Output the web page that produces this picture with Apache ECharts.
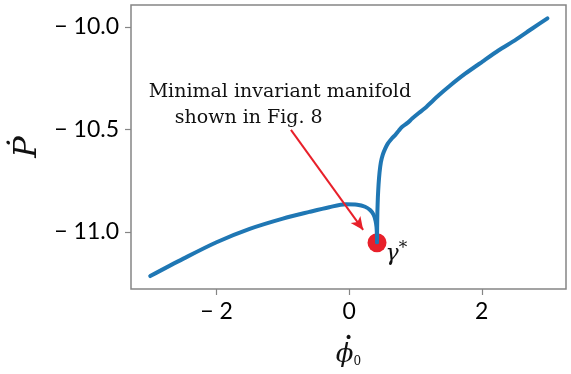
<!DOCTYPE html>
<html>
<head>
<meta charset="utf-8">
<style>
  html, body { margin: 0; padding: 0; background: #fff; }
  #chart { width: 571px; height: 374px; }
</style>
<script src="https://cdn.jsdelivr.net/npm/echarts@6/dist/echarts.min.js"></script>
</head>
<body>
<div id="chart"></div>
<script>
// Lower branch: rises from the left, peaks near 0 and bends down into gamma*
const lowerX = [-3.0, -2.5, -2.0, -1.5, -1.0, -0.6, -0.3, -0.05, 0.12, 0.24, 0.32, 0.37, 0.398, 0.412, 0.418, 0.42];
const lowerY = [-11.215, -11.130, -11.050, -10.985, -10.935, -10.902, -10.879, -10.865, -10.867, -10.877, -10.894, -10.917, -10.945, -10.975, -11.01, -11.05];

// Upper branch: leaves gamma* vertically, then climbs to the right
const upperX = [0.42, 0.422, 0.426, 0.433, 0.443, 0.458, 0.478, 0.505, 0.54, 0.58, 0.64, 0.70, 0.75, 0.80, 0.88, 0.95, 1.05, 1.155, 1.255, 1.355, 1.51, 1.75, 2.01, 2.25, 2.51, 2.75, 2.99];
const upperY = [-11.05, -10.98, -10.90, -10.83, -10.77, -10.71, -10.66, -10.625, -10.596, -10.57, -10.545, -10.525, -10.505, -10.487, -10.468, -10.447, -10.42, -10.393, -10.362, -10.332, -10.289, -10.228, -10.169, -10.115, -10.063, -10.01, -9.958];

// Fixed point gamma*
const gammaStar = [0.42, -11.052];

// Annotation arrow (tail, head) and text anchors
const arrowTail = [-0.878, -10.502];
const arrowHead = [0.211, -10.99];
const noteLine1 = { coord: [-1.045, -10.32], text: 'Minimal invariant manifold' };
const noteLine2 = { coord: [-1.515, -10.445], text: 'shown in Fig. 8' };

// Axis ranges and tick labels
const xRange = [-3.29, 3.27];
const yRange = [-11.278, -9.893];
const xTicks = [-2, 0, 2];
const yTicks = [-11.0, -10.5, -10.0];

const zip = (xs, ys) => xs.map((x, i) => [x, ys[i]]);
const minusFmt = (v, digits) => (v < 0 ? '\u2212 ' : '') + Math.abs(v).toFixed(digits);

const blue = '#1f77b4';
const red = '#e8202a';
const frame = '#858585';
const tickFont = 'Lato, "Open Sans", sans-serif';
const serif = '"DejaVu Serif", "Liberation Serif", serif';

const chart = echarts.init(document.getElementById('chart'), null, { renderer: 'canvas' });

const tickStyle = { show: true, length: 6, lineStyle: { color: frame, width: 1.2 } };

chart.setOption({
  animation: false,
  backgroundColor: '#fff',
  grid: {
    left: 131, right: 5, top: 5, bottom: 85,
    outerBoundsMode: 'none',
    containLabel: false,
    show: true, borderColor: frame, borderWidth: 1.5, backgroundColor: 'transparent'
  },
  xAxis: {
    type: 'value',
    min: xRange[0], max: xRange[1],
    splitLine: { show: false },
    axisLine: { show: false, onZero: false },
    axisTick: Object.assign({ customValues: xTicks }, tickStyle),
    axisLabel: {
      customValues: xTicks, margin: 11,
      fontFamily: tickFont, fontSize: 23, color: '#000',
      formatter: v => minusFmt(v, 0)
    },
    name: '{d|\u00B7}\n{p|\u03D5}{s|0}',
    nameLocation: 'middle',
    nameGap: 44,
    nameTextStyle: {
      rich: {
        d: { fontFamily: serif, fontSize: 22, fontWeight: 'bold', color: '#111', lineHeight: 6, padding: [0, 0, 0, 0] },
        p: { fontFamily: serif, fontStyle: 'italic', fontSize: 26, color: '#111', lineHeight: 26 },
        s: { fontFamily: serif, fontSize: 12, color: '#111', verticalAlign: 'bottom', padding: [14, 0, 0, 0] }
      }
    }
  },
  yAxis: {
    type: 'value',
    min: yRange[0], max: yRange[1],
    splitLine: { show: false },
    axisLine: { show: false, onZero: false },
    axisTick: Object.assign({ customValues: yTicks }, tickStyle),
    axisLabel: {
      customValues: yTicks, margin: 12,
      fontFamily: tickFont, fontSize: 23, color: '#000',
      formatter: v => minusFmt(v, 1)
    },
    name: '\u1E56',
    nameLocation: 'middle',
    nameGap: 82,
    nameRotate: 90,
    nameTextStyle: { fontFamily: serif, fontStyle: 'italic', fontSize: 32, color: '#111' }
  },
  series: [
    {
      name: 'lower',
      type: 'line',
      data: zip(lowerX, lowerY),
      showSymbol: false,
      smooth: 0.3,
      lineStyle: { color: blue, width: 4, cap: 'round', join: 'round' },
      z: 3,
      markLine: {
        silent: true,
        symbol: ['none', 'arrow'],
        symbolSize: [9, 13],
        label: { show: false },
        lineStyle: { color: red, width: 2, type: 'solid' },
        data: [[{ coord: arrowTail }, { coord: arrowHead }]]
      },
      markPoint: {
        silent: true,
        symbol: 'circle',
        symbolSize: 0,
        data: [noteLine1, noteLine2].map(n => ({
          coord: n.coord,
          label: {
            show: true, position: 'inside', formatter: n.text,
            fontFamily: serif, fontSize: 19, color: '#111'
          }
        }))
      }
    },
    {
      name: 'upper',
      type: 'line',
      data: zip(upperX, upperY),
      showSymbol: false,
      smooth: 0.2,
      lineStyle: { color: blue, width: 4, cap: 'round', join: 'round' },
      z: 3
    },
    {
      name: 'gamma',
      type: 'scatter',
      data: [gammaStar],
      symbol: 'circle',
      symbolSize: 19,
      itemStyle: { color: red, opacity: 1 },
      z: 2,
      label: {
        show: true,
        position: 'right',
        distance: -1,
        offset: [0, 12],
        formatter: '{g|\u03B3}{s|*}',
        rich: {
          g: { fontFamily: serif, fontStyle: 'italic', fontSize: 22, color: '#111' },
          s: { fontFamily: serif, fontSize: 17, color: '#111', verticalAlign: 'top', padding: [0, 0, 12, 0] }
        }
      }
    }
  ]
});
</script>
</body>
</html>
